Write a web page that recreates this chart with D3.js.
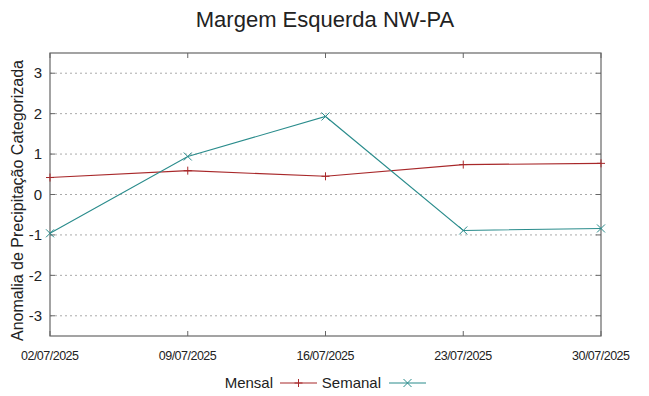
<!DOCTYPE html>
<html lang="pt">
<head>
<meta charset="UTF-8">
<title>Margem Esquerda NW-PA</title>
<style>
    body { margin: 0; background: #fff; }
    svg text { font-family: "Liberation Sans", Arial, sans-serif; fill: #222; }
</style>
</head>
<body>
<svg id="chart"></svg>
<script src="https://d3js.org/d3.v7.min.js"></script>
<script>
// data
const dates = ["02/07/2025", "09/07/2025", "16/07/2025", "23/07/2025", "30/07/2025"];
const mensal = [0.42, 0.59, 0.45, 0.74, 0.77];
const semanal = [-0.96, 0.94, 1.93, -0.89, -0.84];
const yTicks = [-3, -2, -1, 0, 1, 2, 3];

const W = 649, H = 396;
const m = { left: 50, right: 48, top: 53, bottom: 60 };

const svg = d3.select("#chart").attr("width", W).attr("height", H);

const x = d3.scalePoint().domain(dates).range([m.left, W - m.right]);
const y = d3.scaleLinear().domain([-3.5, 3.5]).range([H - m.bottom, m.top]);

// grid
svg.append("g")
    .selectAll("line")
    .data(yTicks)
    .enter()
    .append("line")
    .attr("x1", m.left).attr("x2", W - m.right)
    .attr("y1", d => y(d)).attr("y2", d => y(d))
    .attr("stroke", "#aaa")
    .attr("stroke-width", 1)
    .attr("stroke-dasharray", "2,3");

// frame
svg.append("rect")
    .attr("x", m.left).attr("y", m.top)
    .attr("width", W - m.left - m.right)
    .attr("height", H - m.top - m.bottom)
    .attr("fill", "none")
    .attr("stroke", "#666")
    .attr("stroke-width", 1.2);

// axes (ticks drawn inward, mirrored)
const tickLen = 5;
const tk = svg.append("g").attr("stroke", "#666").attr("stroke-width", 1);
yTicks.forEach(v => {
    tk.append("line").attr("x1", m.left).attr("x2", m.left + tickLen).attr("y1", y(v)).attr("y2", y(v));
    tk.append("line").attr("x1", W - m.right).attr("x2", W - m.right - tickLen).attr("y1", y(v)).attr("y2", y(v));
});
dates.forEach(d => {
    tk.append("line").attr("x1", x(d)).attr("x2", x(d)).attr("y1", H - m.bottom).attr("y2", H - m.bottom - tickLen);
    tk.append("line").attr("x1", x(d)).attr("x2", x(d)).attr("y1", m.top).attr("y2", m.top + tickLen);
});

svg.append("g")
    .selectAll("text")
    .data(yTicks)
    .enter()
    .append("text")
    .attr("x", m.left - 8)
    .attr("y", d => y(d))
    .attr("dy", "0.35em")
    .attr("text-anchor", "end")
    .attr("font-size", 15)
    .text(d => d);

svg.append("g")
    .selectAll("text")
    .data(dates)
    .enter()
    .append("text")
    .attr("x", d => x(d))
    .attr("y", H - m.bottom + 24)
    .attr("text-anchor", "middle")
    .attr("font-family", "'Liberation Sans Narrow', 'Liberation Sans', sans-serif")
    .attr("font-size", 12.5)
    .attr("textLength", 58)
    .text(d => d);

// title and y label
svg.append("text")
    .attr("x", 325).attr("y", 27)
    .attr("text-anchor", "middle")
    .attr("font-size", 22)
    .text("Margem Esquerda NW-PA");

svg.append("text")
    .attr("transform", "translate(23," + (y(0) + 6) + ") rotate(-90)")
    .attr("text-anchor", "middle")
    .attr("font-size", 16)
    .text("Anomalia de Precipitação Categorizada");

// series
const series = [
    { name: "Mensal", values: mensal, color: "#a8282a", marker: "plus" },
    { name: "Semanal", values: semanal, color: "#2a8c8c", marker: "cross" }
];

const line = d3.line().x((d, i) => x(dates[i])).y(d => y(d));

function marker(g, type, cx, cy, color) {
    const s = 4;
    const p = type === "plus"
        ? `M${cx - s},${cy}L${cx + s},${cy}M${cx},${cy - s}L${cx},${cy + s}`
        : `M${cx - s},${cy - s}L${cx + s},${cy + s}M${cx - s},${cy + s}L${cx + s},${cy - s}`;
    g.append("path").attr("d", p).attr("stroke", color).attr("stroke-width", 1).attr("fill", "none");
}

series.forEach(s => {
    const g = svg.append("g");
    g.append("path")
        .datum(s.values)
        .attr("d", line)
        .attr("fill", "none")
        .attr("stroke", s.color)
        .attr("stroke-width", 1.1);
    s.values.forEach((v, i) => marker(g, s.marker, x(dates[i]), y(v), s.color));
});

// legend
const lg = svg.append("g").attr("transform", "translate(0,383)");
const legendItems = [
    { s: series[0], textEnd: 273, x0: 280 },
    { s: series[1], textEnd: 381, x0: 389 }
];
legendItems.forEach(it => {
    lg.append("text")
        .attr("x", it.textEnd).attr("y", 0).attr("dy", "0.35em")
        .attr("text-anchor", "end")
        .attr("font-size", 15)
        .text(it.s.name);
    lg.append("line")
        .attr("x1", it.x0).attr("x2", it.x0 + 37)
        .attr("y1", 0).attr("y2", 0)
        .attr("stroke", it.s.color).attr("stroke-width", 1.1);
    marker(lg, it.s.marker, it.x0 + 18.5, 0, it.s.color);
});
</script>
</body>
</html>
